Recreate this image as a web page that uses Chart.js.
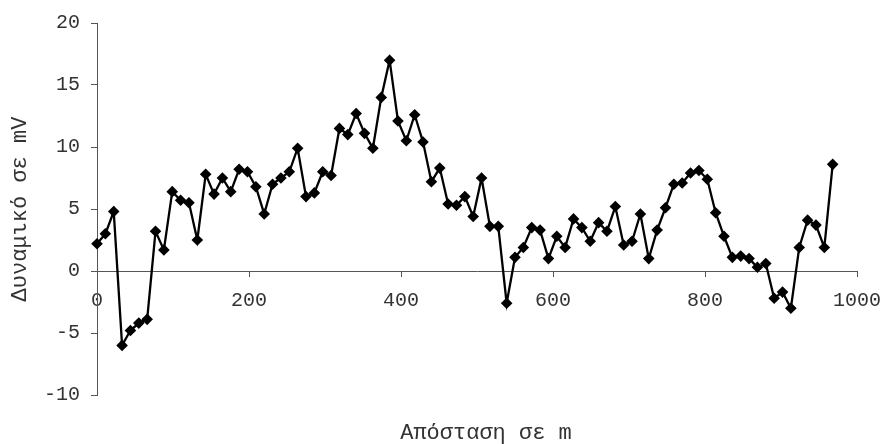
<!DOCTYPE html>
<html><head><meta charset="utf-8">
<script src="https://cdn.jsdelivr.net/npm/chart.js@4"></script>
<style>html,body{margin:0;padding:0;background:#fff;} canvas{display:block;}</style>
</head><body>
<canvas id="c" width="881" height="444"></canvas>
<script>
const distances = [0,11,22,33,44,55,66,77,88,99,110,121,132,143,154,165,176,187,198,209,220,231,242,253,264,275,286,297,308,319,330,341,352,363,374,385,396,407,418,429,440,451,462,473,484,495,506,517,528,539,550,561,572,583,594,605,616,627,638,649,660,671,682,693,704,715,726,737,748,759,770,781,792,803,814,825,836,847,858,869,880,891,902,913,924,935,946,957,968];
const potentials = [2.2,3.0,4.8,-6.0,-4.8,-4.2,-3.9,3.2,1.7,6.4,5.7,5.5,2.5,7.8,6.2,7.5,6.4,8.2,8.0,6.8,4.6,7.0,7.5,8.0,9.9,6.0,6.3,8.0,7.7,11.5,11.0,12.7,11.1,9.9,14.0,17.0,12.1,10.5,12.6,10.4,7.2,8.3,5.4,5.3,6.0,4.4,7.5,3.6,3.6,-2.6,1.1,1.9,3.5,3.3,1.0,2.8,1.9,4.2,3.5,2.4,3.9,3.2,5.2,2.1,2.4,4.6,1.0,3.3,5.1,7.0,7.1,7.9,8.1,7.4,4.7,2.8,1.1,1.2,1.0,0.3,0.6,-2.2,-1.7,-3.0,1.9,4.1,3.7,1.9,8.6];
const xTicks = [0,200,400,600,800,1000];
const yTicks = [-10,-5,0,5,10,15,20];
const xTitle = 'Απόσταση σε m';
const yTitle = 'Δυναμικό σε mV';

const FONT = "'Liberation Mono', 'DejaVu Sans Mono', monospace";
const TEXT = '#333';
const AXIS = '#555';

const xTitlePlugin = {
  id: 'xTitle',
  afterDraw(chart) {
    const ctx = chart.ctx;
    const a = chart.chartArea;
    ctx.save();
    ctx.font = '22px ' + FONT;
    ctx.fillStyle = TEXT;
    ctx.textAlign = 'center';
    ctx.textBaseline = 'middle';
    ctx.fillText(xTitle, (a.left + a.right) / 2 + 9, a.bottom + 38);
    ctx.restore();
  }
};

new Chart(document.getElementById('c'), {
  type: 'line',
  data: {
    datasets: [{
      data: distances.map((d, i) => ({x: d, y: potentials[i]})),
      borderColor: '#000',
      borderWidth: 2.3,
      pointStyle: 'rectRot',
      pointRadius: 5.8,
      pointBackgroundColor: '#000',
      pointBorderColor: '#000',
      pointBorderWidth: 0,
      tension: 0,
      fill: false,
      clip: false
    }]
  },
  options: {
    responsive: false,
    animation: false,
    events: [],
    layout: {padding: {top: 20, right: 24, bottom: 49, left: 0}},
    plugins: {legend: {display: false}, tooltip: {enabled: false}},
    scales: {
      x: {
        type: 'linear', min: 0, max: 1000,
        position: {y: 0},
        afterBuildTicks(s) { s.ticks = xTicks.map(v => ({value: v})); },
        afterFit(s) { s.paddingRight = 0; s.paddingLeft = 0; },
        grid: {drawOnChartArea: false, drawTicks: true, tickLength: 5, color: AXIS},
        border: {color: AXIS, width: 1},
        ticks: {font: {family: FONT, size: 20}, color: TEXT, padding: 13, maxRotation: 0, autoSkip: false,
                callback: v => String(v)}
      },
      y: {
        min: -10, max: 20,
        afterBuildTicks(s) { s.ticks = yTicks.map(v => ({value: v})); },
        afterFit(s) { s.width = 97; },
        grid: {drawOnChartArea: false, tickLength: 6, color: AXIS},
        border: {color: AXIS, width: 1},
        ticks: {font: {family: FONT, size: 20}, color: TEXT, padding: 11, callback: v => String(v)},
        title: {display: true, text: yTitle, font: {family: FONT, size: 22}, color: TEXT, padding: {top: 7, bottom: 0}}
      }
    }
  },
  plugins: [xTitlePlugin]
});
</script>
</body></html>
